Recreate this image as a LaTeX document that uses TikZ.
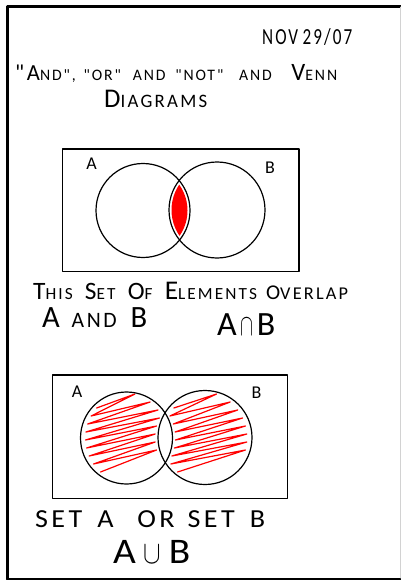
\documentclass[tikz,border=0pt]{standalone}
\usepackage{fontspec}
\setmainfont{Carlito}[LetterSpace=12, Ligatures=TeXOff]
\newcommand\fz[2]{{\fontsize{#1}{#1}\selectfont #2}}
\newcommand\hw[2]{\resizebox{#1}{\height}{#2}}
\newcommand\gap[1]{\hspace*{#1pt}}
\begin{document}
\begin{tikzpicture}[x=1pt,y=-1pt, line cap=round, line join=round,
  declare function={
    aL(\d)=126.5-sqrt(2116-(\d)^2)+5;
    aR(\d)=min(126.5+sqrt(2116-(\d)^2)-5,205-sqrt(2209-(\d)^2)-3);
    bL(\d)=max(205-sqrt(2209-(\d)^2)+5,126.5+sqrt(2116-(\d)^2)+3);
    bR(\d)=205+sqrt(2209-(\d)^2)-5;},
  lbl/.style={inner sep=0pt, font=\fontsize{18}{18}\selectfont},
  txt/.style={inner sep=0pt, anchor=base west},
  venn/.style={line width=1.2pt},
  box/.style={line width=1.4pt},
  scrib/.style={red, line width=1.2pt, line join=round}]
\useasboundingbox (0,0) rectangle (401,580);
\fill[white] (0,0) rectangle (401,580);
% page frame
\draw[line width=2.6pt, line cap=butt] (401,6.5) -- (7.7,6.5) -- (7.7,579.2) -- (401,579.2);
\draw[gray!35, line width=0.6pt] (400,7) -- (400,578);

% header texts
\node[txt] (date) at (262,45) {\hw{90pt}{\fz{23}{NOV}\gap{6}\fz{23}{29/07}}};
\node[txt] (title) at (15,81) {\hw{322pt}{\fz{23}{"A}\fz{16}{ND",}\gap{8}\fz{16}{"OR"}\gap{12}\fz{16}{AND}\gap{10}\fz{16}{"NOT"}\gap{16}\fz{16}{AND}\gap{20}\fz{25}{V}\fz{16}{ENN}}};
\node[txt] (title2) at (104,108) {\hw{103pt}{\fz{27}{D}\fz{19}{IAGRAMS}}};

% ---------- intersection diagram ----------
\draw[box] (62.7,149) rectangle (299,271.7);
\coordinate (cA1) at (143,210.5);
\coordinate (cB1) at (217,210);
\begin{scope}
  \clip (cA1) circle (44.5);
  \fill[red] (cB1) circle (45.5);
\end{scope}
\draw[venn] (cA1) circle (47);
\draw[venn] (cB1) circle (48);
\node[lbl] (lA1) at (91.5,164) {A};
\node[lbl] (lB1) at (270,168) {B};

\node[txt] (t1) at (33,299) {\hw{315pt}{\fz{25}{T}\fz{17}{HIS}\gap{12}\fz{25}{S}\fz{17}{ET}\gap{12}\fz{25}{O}\fz{17}{F}\gap{12}\fz{27}{E}\fz{17}{LEMENTS}\gap{9}\fz{21}{O}\fz{18}{VERLAP}}};
\node[txt] (t2) at (42,327) {\hw{105pt}{\fz{31}{A}\gap{12}\fz{22}{AND}\gap{14}\fz{31}{B}}};
\node[txt] (t3) at (217,335) {\hw{58pt}{\fz{34}{A}\gap{4}\resizebox{13pt}{17pt}{$\cap$}\gap{3}\fz{34}{B}}};

% ---------- union diagram ----------
\draw[box] (52.3,375) rectangle (287.3,498.3);
\coordinate (cA2) at (126.5,438);
\coordinate (cB2) at (205,437.5);
\draw[scrib] ({aL(-30)},{438-30})
  \foreach \d in {-30,-22,-14,-6,2,10,18,26} { -- ({aR(\d-14)},{438+\d-14}) -- ({aL(\d+8)},{438+\d+8}) };
\draw[scrib] ({bL(-30)},{438-30})
  \foreach \d in {-30,-22,-14,-6,2,10,18,26} { -- ({bR(\d-14)},{438+\d-14}) -- ({bL(\d+8)},{438+\d+8}) };
\draw[venn] (cA2) circle (46);
\draw[venn] (cB2) circle (47);
\node[lbl] (lA2) at (77,391.5) {A};
\node[lbl] (lB2) at (256.5,392.5) {B};

\node[txt] (t4) at (35,527) {\hw{230pt}{\fz{26}{SET}\gap{14}\fz{26}{A}\gap{22}\fz{26}{OR}\gap{12}\fz{26}{SET}\gap{14}\fz{26}{B}}};
\node[txt] (t5) at (113,563) {\hw{77pt}{\fz{36}{A}\gap{7}\resizebox{16pt}{18pt}{$\cup$}\gap{7}\fz{36}{B}}};
\end{tikzpicture}
\end{document}
